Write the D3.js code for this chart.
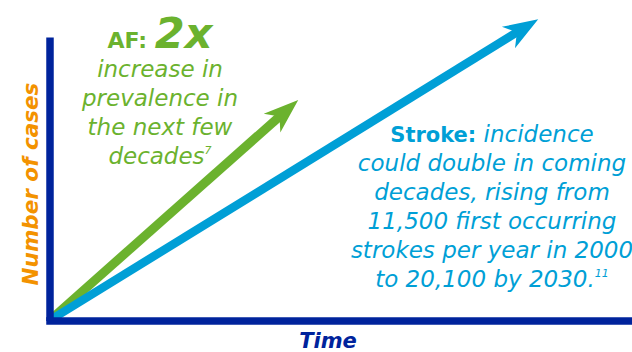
<!DOCTYPE html>
<html>
<head>
<meta charset="utf-8">
<script src="https://cdn.jsdelivr.net/npm/d3@7"></script>
<style>
  html, body { margin: 0; padding: 0; background: #fff; }
  svg { display: block; }
  text { font-family: "DejaVu Sans", "Open Sans", sans-serif; }
</style>
</head>
<body>
<svg id="chart" width="632" height="352"></svg>
<script>
// ---- data (illustrative trend arrows: time vs number of cases) ----
const seriesNames = ["AF", "Stroke"];
const afTime = [0, 42.7];
const afCases = [0, 77.8];
const strokeTime = [0, 83.9];
const strokeCases = [0, 106.3];
const afLines = ["increase in", "prevalence in", "the next few", "decades"];
const strokeLines = ["could double in coming", "decades, rising from", "11,500 first occurring", "strokes per year in 2000", "to 20,100 by 2030."];
const axisLabels = { x: "Time", y: "Number of cases" };

const colors = { axis: "#00239C", af: "#6BB22E", stroke: "#009FD6", ylab: "#F39200" };

const svg = d3.select("#chart");
const x = d3.scaleLinear().domain([0, 100]).range([49.5, 632]);
const y = d3.scaleLinear().domain([0, 100]).range([320.5, 37]);

function arrow(times, cases, color, width) {
  const p0 = [x(times[0]), y(cases[0])];
  const p1 = [x(times[1]), y(cases[1])];
  const dx = p1[0] - p0[0], dy = p1[1] - p0[1];
  const len = Math.hypot(dx, dy);
  const u = [dx / len, dy / len], n = [-u[1], u[0]];
  const back = 35, notch = 25, half = 12.5;
  const pt = (a, b) => [p1[0] - u[0] * a + n[0] * b, p1[1] - u[1] * a + n[1] * b];
  const g = svg.append("g");
  g.append("line")
    .attr("x1", p0[0]).attr("y1", p0[1])
    .attr("x2", pt(notch - 1, 0)[0]).attr("y2", pt(notch - 1, 0)[1])
    .attr("stroke", color).attr("stroke-width", width);
  g.append("path")
    .attr("d", d3.line()([p1, pt(back, half), pt(notch, 0), pt(back, -half)]) + "Z")
    .attr("fill", color);
}
arrow(afTime, afCases, colors.af, 9);
arrow(strokeTime, strokeCases, colors.stroke, 8.5);

// axes
const xAxis = svg.append("g").attr("transform", "translate(0,320.5)")
  .call(d3.axisBottom(x).ticks(0).tickSizeOuter(0));
xAxis.select(".domain").attr("stroke", colors.axis).attr("stroke-width", 7.5).attr("stroke-linecap", "square");
const yAxis = svg.append("g").attr("transform", "translate(49.5,0)")
  .call(d3.axisLeft(y).ticks(0).tickSizeOuter(0));
yAxis.select(".domain").attr("stroke", colors.axis).attr("stroke-width", 7.5);

// axis titles
svg.append("text").attr("x", 328).attr("y", 348).attr("text-anchor", "middle")
  .attr("font-size", 21).attr("font-style", "italic").attr("font-weight", 700)
  .attr("fill", colors.axis).text(axisLabels.x);
svg.append("text").attr("transform", "translate(38,184) rotate(-90)").attr("text-anchor", "middle")
  .attr("font-size", 21.5).attr("font-style", "italic").attr("font-weight", 700)
  .attr("fill", colors.ylab).text(axisLabels.y);

// AF annotation
const afT = svg.append("text").attr("x", 160).attr("y", 47.5).attr("text-anchor", "middle").attr("fill", colors.af);
afT.append("tspan").attr("font-size", 22).attr("font-weight", 700).text(seriesNames[0] + ": ");
afT.append("tspan").attr("font-size", 43).attr("font-weight", 700).attr("font-style", "italic").text("2x");
afLines.forEach((s, i) => {
  const t = svg.append("text").attr("x", 160).attr("y", 77 + i * 29).attr("text-anchor", "middle")
    .attr("font-size", 23).attr("font-style", "italic").attr("fill", colors.af).text(s);
  if (i === afLines.length - 1) t.append("tspan").attr("font-size", 11).attr("dy", -10).text("7");
});

// Stroke annotation
const stT = svg.append("text").attr("x", 492).attr("y", 142).attr("text-anchor", "middle").attr("fill", colors.stroke).attr("font-size", 23);
stT.append("tspan").attr("font-weight", 700).attr("font-size", 21).text(seriesNames[1] + ": ");
stT.append("tspan").attr("font-style", "italic").text("incidence");
strokeLines.forEach((s, i) => {
  const t = svg.append("text").attr("x", 492).attr("y", 171 + i * 29).attr("text-anchor", "middle")
    .attr("font-size", 23).attr("font-style", "italic").attr("fill", colors.stroke).text(s);
  if (i === strokeLines.length - 1) t.append("tspan").attr("font-size", 11).attr("dy", -10).text("11");
});
</script>
</body>
</html>
